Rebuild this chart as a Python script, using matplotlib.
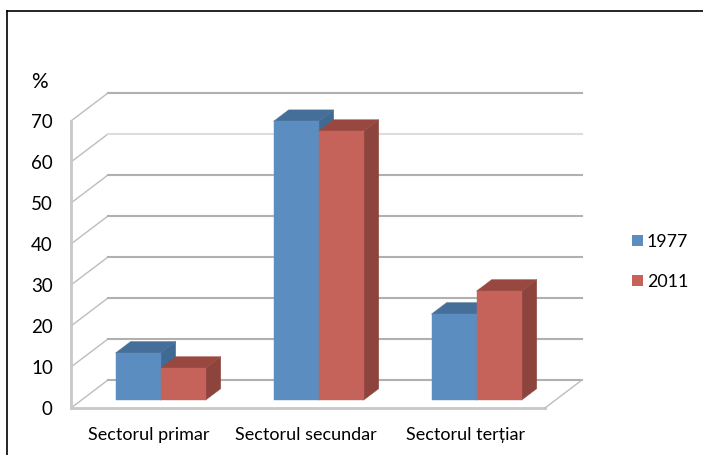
import matplotlib
matplotlib.use('Agg')
import matplotlib.pyplot as plt
from matplotlib.patches import Polygon, Rectangle

categories = ['Sectorul primar', 'Sectorul secundar', 'Sectorul terțiar']
years = ['1977', '2011']
values_1977 = [11.5, 68, 21]
values_2011 = [7.8, 65.6, 26.6]
y_ticks = [0, 10, 20, 30, 40, 50, 60, 70]

W, H = 703, 455
# depth of the 3d floor, in data units
DX = 0.234
DY = 6.83
BAR_W = 0.285


def shade(ax, pts, color):
    ax.add_patch(Polygon(pts, closed=True, facecolor=color, edgecolor=color, lw=0.3, clip_on=False, zorder=4))


def draw_bar(ax, left, height, front, top, side):
    # front face starts part way into the floor
    x0 = left + 0.285 * DX
    y0 = 0.28 * DY
    dx = 0.41 * DX
    dy = 0.41 * DY
    x1 = x0 + BAR_W
    y1 = y0 + height
    shade(ax, [(x1, y0), (x1 + dx, y0 + dy), (x1 + dx, y1 + dy), (x1, y1)], side)
    shade(ax, [(x0, y1), (x0 + dx, y1 + dy), (x1 + dx, y1 + dy), (x1, y1)], top)
    shade(ax, [(x0, y0), (x1, y0), (x1, y1), (x0, y1)], front)


fig = plt.figure(figsize=(W / 100, H / 100), dpi=100)
plt.rcParams['font.family'] = ['Lato', 'DejaVu Sans']

# frame of the pasted chart, open at the bottom
fig.add_artist(plt.Line2D([7.5 / W, 7.5 / W], [0, 1 - 10.5 / H], color='black', lw=1.2))
fig.add_artist(plt.Line2D([7.5 / W, 1], [1 - 10.5 / H, 1 - 10.5 / H], color='black', lw=1.2))

ax = fig.add_axes([71 / W, 1 - 408 / H, 474 / W, 287 / H])
ax.set_xlim(0, 3)
ax.set_ylim(0, 70)
ax.axis('off')

grid = '#b0b0b0'
for v in y_ticks:
    c = '#dcdcdc' if v == 60 else grid
    ax.plot([0, DX], [v, v + DY], color='#bdbdbd', lw=1.0, clip_on=False, zorder=1)
    ax.plot([DX, 3 + DX], [v + DY, v + DY], color=c, lw=1.5, clip_on=False, zorder=1)
    ax.text(-0.115, v - 0.3, str(v), ha='right', va='center', fontsize=13.5, clip_on=False)
ax.plot([0, 0], [0, 70], color='#c8c8c8', lw=2, clip_on=False, zorder=2)
ax.plot([0, 3], [0, 0], color='#c8c8c8', lw=2, clip_on=False, zorder=2)
ax.plot([3, 3 + DX], [0, DY], color='#bdbdbd', lw=1.0, clip_on=False, zorder=2)
ax.text(-0.25, 79.5, '%', ha='left', va='center', fontsize=15, clip_on=False)

blue = ('#5b8dc0', '#456f98', '#3f6a93')
red = ('#c5625a', '#99483f', '#8c443d')
label_shift = [-0.005, -0.012, -0.005]
for i, name in enumerate(categories):
    draw_bar(ax, i + 0.5 - BAR_W, values_1977[i], *blue)
    draw_bar(ax, i + 0.5, values_2011[i], *red)
    ax.text(i + 0.5 + label_shift[i], -6.5, name, ha='center', va='center', fontsize=13, clip_on=False)

# legend by hand, excel style squares
for name, col, py in zip(years, [blue[0], red[0]], [241, 281]):
    fig.add_artist(Rectangle((632 / W, 1 - (py + 5) / H), 11 / W, 11 / H, facecolor=col, edgecolor='none', transform=fig.transFigure))
    fig.text(647 / W, 1 - (py + 1) / H, name, ha='left', va='center', fontsize=12.8)

fig.savefig('out.png', dpi=100)
